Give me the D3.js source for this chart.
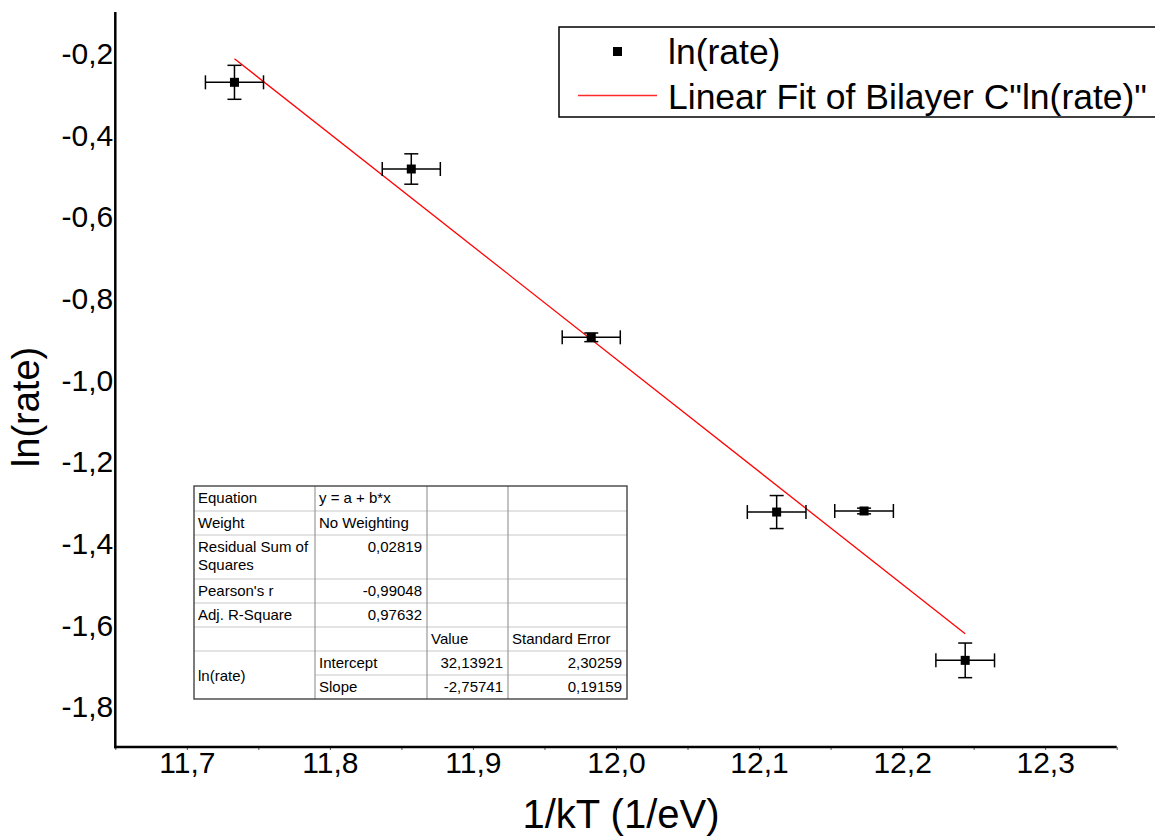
<!DOCTYPE html>
<html>
<head>
<meta charset="utf-8">
<script src="https://cdn.jsdelivr.net/npm/d3@7"></script>
<style>
  html, body { margin: 0; padding: 0; background: #fff; }
  svg { display: block; }
  text { font-family: "Liberation Sans", Arial, Helvetica, sans-serif; fill: #000; }
</style>
</head>
<body>
<svg id="chart" width="1155" height="837"></svg>
<script>
// Arrhenius-type data: ln(rate) against 1/kT, with error bars
const invKT      = [11.7333, 11.8569, 11.9827, 12.1123, 12.1734, 12.2441];
const lnRate     = [-0.2722, -0.4845, -0.8967, -1.3246, -1.3220, -1.6878];
const invKTErr   = [0.0203, 0.0203, 0.0203, 0.0205, 0.0205, 0.0205];
const lnRateErr  = [0.0416, 0.0372, 0.0106, 0.0404, 0.0070, 0.0424];

// Linear fit results
const fitIntercept = 32.13921;
const fitSlope     = -2.75741;
const fitInterceptErr = 2.30259;
const fitSlopeErr     = 0.19159;
const fitRSS = 0.02819;
const fitPearson = -0.99048;
const fitAdjR2 = 0.97632;

// Tick values
const xTicks      = [11.7, 11.8, 11.9, 12.0, 12.1, 12.2, 12.3];
const xMinorTicks = [11.65, 11.7, 11.75, 11.8, 11.85, 11.9, 11.95, 12.0, 12.05, 12.1, 12.15, 12.2, 12.25, 12.3, 12.35];
const yTicks      = [-1.8, -1.6, -1.4, -1.2, -1.0, -0.8, -0.6, -0.4, -0.2];

const legendLabels = ["ln(rate)", "Linear Fit of Bilayer C\"ln(rate)\""];
const xTitle = "1/kT (1/eV)";
const yTitle = "ln(rate)";

const locale = d3.formatLocale({decimal: ",", thousands: ".", grouping: [3], currency: ["", ""], minus: "-"});
const f1 = locale.format(".1f");
const f5 = locale.format(".5f");

// Fit statistics table
const tableRows = [
  ["Equation", "y = a + b*x", "", ""],
  ["Weight", "No Weighting", "", ""],
  ["Residual Sum of\nSquares", f5(fitRSS), "", ""],
  ["Pearson's r", f5(fitPearson), "", ""],
  ["Adj. R-Square", f5(fitAdjR2), "", ""],
  ["", "", "Value", "Standard Error"],
  ["ln(rate)", "Intercept", f5(fitIntercept), f5(fitInterceptErr)],
  ["", "Slope", f5(fitSlope), f5(fitSlopeErr)]
];

const svg = d3.select("#chart");

const x = d3.scaleLinear().domain([11.65, 12.35]).range([115.3, 1116.7]);
const y = d3.scaleLinear().domain([-1.9, -0.1]).range([747, 12]);

// ---- axes ----
const xAxis = d3.axisBottom(x).tickValues(xMinorTicks).tickSize(3).tickFormat("");
svg.append("g").attr("transform", "translate(0,747)").call(xAxis)
  .call(g => g.select(".domain").remove())
  .call(g => g.selectAll(".tick line").attr("stroke", "#555").attr("stroke-width", 1));

const xLab = d3.axisBottom(x).tickValues(xTicks).tickSize(0).tickPadding(2.5).tickFormat(f1);
svg.append("g").attr("transform", "translate(0,747)").call(xLab)
  .call(g => g.select(".domain").remove())
  .call(g => g.selectAll("text").attr("font-size", 30).attr("dy", "0.78em")
    .style("font-family", "'Liberation Sans', Arial, sans-serif"));

const yLab = d3.axisLeft(y).tickValues(yTicks).tickSize(0).tickPadding(2).tickFormat(f1);
svg.append("g").attr("transform", "translate(115.3,0)").call(yLab)
  .call(g => g.select(".domain").remove())
  .call(g => g.selectAll("text").attr("font-size", 30).attr("dy", "0.36em")
    .style("font-family", "'Liberation Sans', Arial, sans-serif"));

// axis lines
svg.append("line").attr("x1", x.range()[0]).attr("x2", x.range()[0])
  .attr("y1", y.range()[1]).attr("y2", y.range()[0] + 1.2)
  .attr("stroke", "#000").attr("stroke-width", 2.5);
svg.append("line").attr("x1", x.range()[0] - 1.2).attr("x2", x.range()[1])
  .attr("y1", y.range()[0]).attr("y2", y.range()[0])
  .attr("stroke", "#000").attr("stroke-width", 2.5);

// axis titles
svg.append("text").attr("x", 621).attr("y", 828).attr("text-anchor", "middle")
  .attr("font-size", 40).text(xTitle);
svg.append("text").attr("transform", "translate(39,407) rotate(-90)")
  .attr("text-anchor", "middle").attr("font-size", 38).text(yTitle);

// ---- fit line ----
const xFit = d3.extent(invKT);
svg.append("line")
  .attr("x1", x(xFit[0])).attr("y1", y(fitIntercept + fitSlope * xFit[0]))
  .attr("x2", x(xFit[1])).attr("y2", y(fitIntercept + fitSlope * xFit[1]))
  .attr("stroke", "#ff0000").attr("stroke-width", 1.3);

// ---- data with error bars ----
const pts = invKT.map((v, i) => ({x: v, y: lnRate[i], ex: invKTErr[i], ey: lnRateErr[i]}));
const cap = 7;
const eb = svg.append("g").attr("stroke", "#000").attr("stroke-width", 1.5).attr("fill", "none");
pts.forEach(d => {
  const cx = x(d.x), cy = y(d.y);
  const x0 = x(d.x - d.ex), x1 = x(d.x + d.ex);
  const y0 = y(d.y + d.ey), y1 = y(d.y - d.ey);
  eb.append("line").attr("x1", x0).attr("x2", x1).attr("y1", cy).attr("y2", cy);
  eb.append("line").attr("x1", x0).attr("x2", x0).attr("y1", cy - cap).attr("y2", cy + cap);
  eb.append("line").attr("x1", x1).attr("x2", x1).attr("y1", cy - cap).attr("y2", cy + cap);
  eb.append("line").attr("x1", cx).attr("x2", cx).attr("y1", y0).attr("y2", y1);
  eb.append("line").attr("x1", cx - cap).attr("x2", cx + cap).attr("y1", y0).attr("y2", y0);
  eb.append("line").attr("x1", cx - cap).attr("x2", cx + cap).attr("y1", y1).attr("y2", y1);
});
svg.append("g").selectAll("rect").data(pts).join("rect")
  .attr("x", d => x(d.x) - 4.5).attr("y", d => y(d.y) - 4.5)
  .attr("width", 9).attr("height", 9).attr("fill", "#000");

// ---- legend ----
const lg = svg.append("g");
lg.append("rect").attr("x", 559).attr("y", 27).attr("width", 620).attr("height", 90)
  .attr("fill", "#fff").attr("stroke", "#000").attr("stroke-width", 1.5);
lg.append("rect").attr("x", 613).attr("y", 47).attr("width", 9).attr("height", 9).attr("fill", "#000");
lg.append("line").attr("x1", 578).attr("x2", 657).attr("y1", 95.5).attr("y2", 95.5)
  .attr("stroke", "#ff2a2a").attr("stroke-width", 1.5);
lg.selectAll("text.lab").data(legendLabels).join("text").attr("class", "lab")
  .attr("x", 668).attr("y", (d, i) => 64 + i * 44.5).attr("font-size", 35.5).text(d => d);

// ---- fit table ----
const colX = [194, 315, 427, 508, 627];
const rowY = [486, 511, 535, 579, 603, 627, 651, 675, 699];
const tb = svg.append("g");
tb.append("rect").attr("x", colX[0]).attr("y", rowY[0])
  .attr("width", colX[4] - colX[0]).attr("height", rowY[8] - rowY[0]).attr("fill", "#fff");
// row separators
for (let r = 1; r < rowY.length - 1; r++) {
  const startX = (r === 7) ? colX[1] : colX[0];
  tb.append("line").attr("x1", startX).attr("x2", colX[4]).attr("y1", rowY[r]).attr("y2", rowY[r])
    .attr("stroke", "#c8c8c8").attr("stroke-width", 1.2);
}
// column separators
for (let c = 1; c < colX.length - 1; c++) {
  tb.append("line").attr("x1", colX[c]).attr("x2", colX[c]).attr("y1", rowY[0]).attr("y2", rowY[8])
    .attr("stroke", "#9a9a9a").attr("stroke-width", 1.2);
}
tb.append("rect").attr("x", colX[0]).attr("y", rowY[0])
  .attr("width", colX[4] - colX[0]).attr("height", rowY[8] - rowY[0])
  .attr("fill", "none").attr("stroke", "#444").attr("stroke-width", 1.4);

const isNum = s => /^-?[0-9]/.test(s);
tableRows.forEach((row, r) => {
  row.forEach((cell, c) => {
    if (!cell) return;
    const lines = cell.split("\n");
    let top = rowY[r] + 16.5;
    if (r === 6 && c === 0) top = (rowY[6] + rowY[8]) / 2 + 5.5;
    const num = isNum(cell);
    const t = tb.append("text").attr("font-size", 15)
      .attr("text-anchor", num ? "end" : "start")
      .attr("x", num ? colX[c + 1] - 5 : colX[c] + 4);
    lines.forEach((ln, k) => {
      t.append("tspan").attr("x", num ? colX[c + 1] - 5 : colX[c] + 4)
        .attr("y", top + k * 18.5).text(ln);
    });
  });
});
</script>
</body>
</html>
